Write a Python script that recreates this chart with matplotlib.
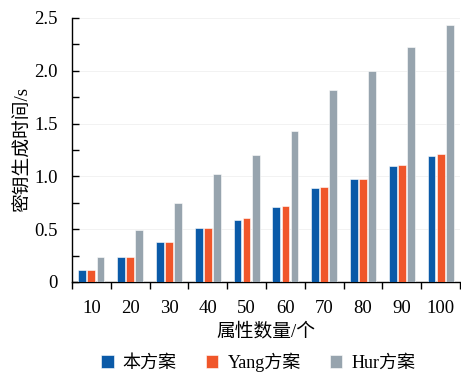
import numpy as np
import matplotlib
matplotlib.use("Agg")
import matplotlib.pyplot as plt
from matplotlib.ticker import MultipleLocator

plt.rcParams['font.family'] = ['Liberation Serif', 'Noto Sans CJK SC']

categories = ["10", "20", "30", "40", "50", "60", "70", "80", "90", "100"]
ours = [0.114, 0.24, 0.376, 0.51, 0.587, 0.71, 0.887, 0.975, 1.10, 1.196]
yang = [0.114, 0.24, 0.38, 0.515, 0.603, 0.72, 0.90, 0.98, 1.105, 1.21]
hur = [0.24, 0.49, 0.745, 1.025, 1.20, 1.43, 1.82, 1.995, 2.225, 2.437]
series_names = ["本方案", "Yang方案", "Hur方案"]
colors = ["#0a5aa8", "#f0562a", "#97a4ae"]

fig = plt.figure(figsize=(4.61, 3.75), dpi=100)
ax = fig.add_axes([0.156, 0.248, 0.842, 0.704])

x = np.arange(len(categories))
w = 0.2
off = 0.235
for i, (vals, name, c) in enumerate(zip([ours, yang, hur], series_names, colors)):
    ax.bar(x + (i - 1) * off, vals, width=w, color=c, edgecolor="white",
           linewidth=0.4, label=name, zorder=3)

ax.set_xlim(-0.5, len(categories) - 0.5)
ax.set_ylim(0, 2.5)
ax.set_xticks(x)
ax.set_xticklabels(categories, fontsize=13.5)
ax.set_xticks(np.arange(-0.5, len(categories), 1.0), minor=True)
ax.tick_params(axis="x", which="major", length=0, pad=13)
ax.tick_params(axis="x", which="minor", length=5, width=1, direction="out")

ax.yaxis.set_minor_locator(MultipleLocator(0.25))
ax.set_yticks([0, 0.5, 1.0, 1.5, 2.0, 2.5])
ax.set_yticklabels(["0", "0.5", "1.0", "1.5", "2.0", "2.5"], fontsize=13.5)
ax.tick_params(axis="y", which="both", direction="in", length=5, width=1, pad=10)

ax.grid(axis="y", color="#f0f0f0", linewidth=0.6, zorder=0)
for s in ["top", "right"]:
    ax.spines[s].set_visible(False)
for s in ["left", "bottom"]:
    ax.spines[s].set_linewidth(1.0)

ax.set_xlabel("属性数量/个", fontsize=13.5, labelpad=4)
ax.set_ylabel("密钥生成时间/s", fontsize=13.5, labelpad=2)

fig.legend(loc="lower center", bbox_to_anchor=(0.56, -0.035), ncol=3, frameon=False,
           fontsize=13, handlelength=0.7, handleheight=0.7, handletextpad=0.5,
           columnspacing=1.6)

fig.savefig("out.png", dpi=100)
